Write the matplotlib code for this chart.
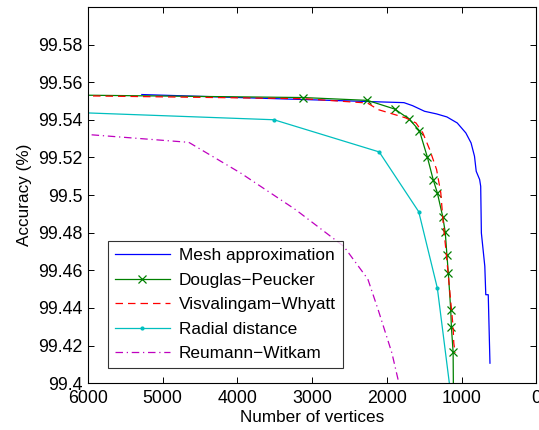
import matplotlib.pyplot as plt

plt.rcParams['font.family'] = ['Liberation Sans', 'DejaVu Sans']

# Mesh approximation
mesh_x = [5278, 1771, 1656, 1495, 1334, 1196, 1058, 943, 873, 827, 804, 758, 744, 735, 689, 676, 643, 620]
mesh_y = [99.5534, 99.5491, 99.5475, 99.5445, 99.5431, 99.5415, 99.5383, 99.5330, 99.5277,
          99.5206, 99.5126, 99.5082, 99.5046, 99.4798, 99.4621, 99.4470, 99.4470, 99.4106]

# Douglas-Peucker
dp_x = [6600, 3115, 2259, 1895, 1702, 1564, 1458, 1380, 1324, 1251, 1218, 1196, 1177, 1145, 1136, 1113, 1108]
dp_y = [99.5533, 99.5518, 99.5503, 99.5457, 99.5404, 99.5342, 99.5202, 99.5082, 99.5011,
        99.4883, 99.4801, 99.4681, 99.4585, 99.4390, 99.4298, 99.4165, 99.390]

# Visvalingam-Whyatt
vw_x = [6600, 3115, 2259, 2116, 1748, 1610, 1518, 1426, 1334, 1278, 1242, 1205, 1168, 1113, 1104, 1085]
vw_y = [99.5530, 99.5512, 99.5489, 99.5454, 99.5410, 99.5383, 99.5330, 99.5241, 99.5135,
        99.5011, 99.4833, 99.4691, 99.4532, 99.4298, 99.4213, 99.4160]

# Radial distance
rd_x = [6600, 3510, 2102, 1573, 1324, 1100]
rd_y = [99.5445, 99.5400, 99.5229, 99.4911, 99.4505, 99.380]

# Reumann-Witkam
rw_x = [6600, 4650, 3957, 3220, 2576, 2254, 2116, 1932, 1780]
rw_y = [99.5340, 99.5280, 99.5117, 99.4922, 99.4727, 99.4553, 99.4390, 99.4160, 99.390]

fig = plt.figure(figsize=(5.39, 4.30), dpi=100)
ax = fig.add_axes([0.163, 0.109, 0.832, 0.875])

ax.plot(mesh_x, mesh_y, color='#0000ff', lw=0.9, label='Mesh approximation')
ax.plot(dp_x, dp_y, color='#008000', lw=0.9, marker='x', ms=6, mew=0.9, label='Douglas\u2212Peucker')
ax.plot(vw_x, vw_y, color='#ff0000', lw=0.9, ls=(0, (6, 4)), label='Visvalingam\u2212Whyatt')
ax.plot(rd_x, rd_y, color='#00bfbf', lw=0.9, marker='.', ms=4, label='Radial distance')
ax.plot(rw_x, rw_y, color='#bf00bf', lw=0.9, ls=(0, (6, 3, 1, 3)), label='Reumann\u2212Witkam')

ax.set_xlim(6000, 0)
ax.set_ylim(99.4, 99.6)
ax.set_xticks([6000, 5000, 4000, 3000, 2000, 1000, 0])
ax.set_yticks([99.40, 99.42, 99.44, 99.46, 99.48, 99.50, 99.52, 99.54, 99.56, 99.58])
ax.set_yticklabels(['99.4', '99.42', '99.44', '99.46', '99.48', '99.5', '99.52', '99.54', '99.56', '99.58'])
ax.tick_params(direction='in', top=True, right=True, labelsize=12.8, length=4, width=0.7)
ax.tick_params(axis='x', pad=5)
for s in ax.spines.values():
    s.set_linewidth(0.8)

ax.set_xlabel('Number of vertices', fontsize=12.3, labelpad=2)
ax.set_ylabel('Accuracy (%)', fontsize=12.3, labelpad=5)

leg = ax.legend(loc='lower left', bbox_to_anchor=(0.045, 0.04), fontsize=12.4, frameon=True,
                fancybox=False, edgecolor='black', handlelength=3.2, borderpad=0.4,
                labelspacing=0.55, handletextpad=0.5, borderaxespad=0)
leg.get_frame().set_linewidth(0.8)

fig.savefig('out.png', dpi=100)
